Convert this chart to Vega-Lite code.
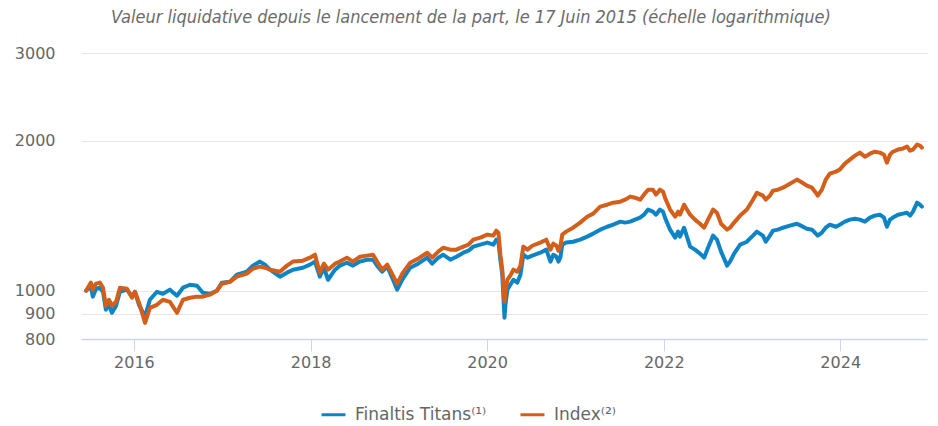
{
  "$schema": "https://vega.github.io/schema/vega-lite/v6.json",
  "autosize": {"type": "none"},
  "width": 846,
  "height": 286,
  "padding": {"left": 81, "top": 53, "right": 11, "bottom": 87},
  "background": "white",
  "title": {
    "text": "Valeur liquidative depuis le lancement de la part, le 17 Juin 2015 (échelle logarithmique)",
    "anchor": "middle",
    "dx": -33,
    "offset": 18,
    "font": "DejaVu Sans Condensed",
    "fontStyle": "italic",
    "fontWeight": "normal",
    "fontSize": 18,
    "color": "#6b6b6b"
  },
  "config": {
    "view": {"stroke": null},
    "axis": {"labelFont": "DejaVu Sans", "labelColor": "#666666", "labelFontSize": 16, "title": null},
    "legend": {"labelFont": "DejaVu Sans", "labelColor": "#666666", "labelFontSize": 17}
  },
  "data": {
    "values": [
      {"d": "2015-06-17", "F": 1000, "I": 1000},
      {"d": "2015-07-07", "F": 1019, "I": 1038},
      {"d": "2015-07-15", "F": 973, "I": 1005},
      {"d": "2015-07-28", "F": 1009, "I": 1033},
      {"d": "2015-08-13", "F": 1014, "I": 1038},
      {"d": "2015-08-26", "F": 995, "I": 1014},
      {"d": "2015-09-07", "F": 916, "I": 933},
      {"d": "2015-09-20", "F": 937, "I": 959},
      {"d": "2015-10-02", "F": 903, "I": 933},
      {"d": "2015-10-19", "F": 933, "I": 950},
      {"d": "2015-11-04", "F": 995, "I": 1014},
      {"d": "2015-12-03", "F": 1005, "I": 1009},
      {"d": "2015-12-24", "F": 973, "I": 968},
      {"d": "2016-01-05", "F": 995, "I": 995},
      {"d": "2016-01-22", "F": 937, "I": 946},
      {"d": "2016-02-16", "F": 887, "I": 862},
      {"d": "2016-03-07", "F": 959, "I": 924},
      {"d": "2016-04-05", "F": 995, "I": 937},
      {"d": "2016-04-30", "F": 986, "I": 959},
      {"d": "2016-05-29", "F": 1005, "I": 950},
      {"d": "2016-06-27", "F": 977, "I": 903},
      {"d": "2016-07-22", "F": 1014, "I": 959},
      {"d": "2016-08-20", "F": 1028, "I": 968},
      {"d": "2016-09-18", "F": 1023, "I": 973},
      {"d": "2016-10-12", "F": 991, "I": 973},
      {"d": "2016-11-10", "F": 986, "I": 982},
      {"d": "2016-12-09", "F": 1000, "I": 1000},
      {"d": "2016-12-30", "F": 1038, "I": 1033},
      {"d": "2017-02-01", "F": 1042, "I": 1042},
      {"d": "2017-03-02", "F": 1077, "I": 1067},
      {"d": "2017-04-12", "F": 1092, "I": 1082},
      {"d": "2017-05-07", "F": 1123, "I": 1107},
      {"d": "2017-06-05", "F": 1144, "I": 1118},
      {"d": "2017-06-26", "F": 1128, "I": 1112},
      {"d": "2017-07-17", "F": 1102, "I": 1102},
      {"d": "2017-08-27", "F": 1067, "I": 1092},
      {"d": "2017-09-25", "F": 1087, "I": 1123},
      {"d": "2017-10-20", "F": 1102, "I": 1144},
      {"d": "2017-11-30", "F": 1112, "I": 1149},
      {"d": "2017-12-29", "F": 1128, "I": 1165},
      {"d": "2018-01-19", "F": 1144, "I": 1181},
      {"d": "2018-02-08", "F": 1067, "I": 1087},
      {"d": "2018-02-25", "F": 1112, "I": 1133},
      {"d": "2018-03-14", "F": 1052, "I": 1102},
      {"d": "2018-04-12", "F": 1102, "I": 1133},
      {"d": "2018-05-02", "F": 1123, "I": 1144},
      {"d": "2018-05-31", "F": 1138, "I": 1165},
      {"d": "2018-06-25", "F": 1123, "I": 1144},
      {"d": "2018-07-24", "F": 1144, "I": 1170},
      {"d": "2018-08-22", "F": 1154, "I": 1176},
      {"d": "2018-09-16", "F": 1154, "I": 1181},
      {"d": "2018-10-03", "F": 1123, "I": 1144},
      {"d": "2018-10-24", "F": 1092, "I": 1102},
      {"d": "2018-11-14", "F": 1118, "I": 1128},
      {"d": "2018-12-08", "F": 1052, "I": 1072},
      {"d": "2018-12-25", "F": 1005, "I": 1033},
      {"d": "2019-01-15", "F": 1052, "I": 1082},
      {"d": "2019-02-17", "F": 1112, "I": 1138},
      {"d": "2019-03-22", "F": 1133, "I": 1160},
      {"d": "2019-04-28", "F": 1165, "I": 1192},
      {"d": "2019-05-19", "F": 1133, "I": 1165},
      {"d": "2019-06-13", "F": 1165, "I": 1198},
      {"d": "2019-07-03", "F": 1181, "I": 1220},
      {"d": "2019-08-02", "F": 1154, "I": 1209},
      {"d": "2019-08-27", "F": 1170, "I": 1209},
      {"d": "2019-09-25", "F": 1192, "I": 1226},
      {"d": "2019-10-16", "F": 1203, "I": 1237},
      {"d": "2019-11-05", "F": 1226, "I": 1266},
      {"d": "2019-12-04", "F": 1237, "I": 1278},
      {"d": "2020-01-02", "F": 1249, "I": 1296},
      {"d": "2020-01-27", "F": 1237, "I": 1290},
      {"d": "2020-02-08", "F": 1266, "I": 1320},
      {"d": "2020-02-17", "F": 1254, "I": 1308},
      {"d": "2020-02-25", "F": 1154, "I": 1181},
      {"d": "2020-03-04", "F": 1077, "I": 1102},
      {"d": "2020-03-08", "F": 982, "I": 1028},
      {"d": "2020-03-13", "F": 883, "I": 950},
      {"d": "2020-03-17", "F": 937, "I": 995},
      {"d": "2020-03-25", "F": 1005, "I": 1052},
      {"d": "2020-04-06", "F": 1028, "I": 1072},
      {"d": "2020-04-19", "F": 1052, "I": 1102},
      {"d": "2020-05-05", "F": 1038, "I": 1092},
      {"d": "2020-05-18", "F": 1077, "I": 1123},
      {"d": "2020-05-30", "F": 1181, "I": 1226},
      {"d": "2020-06-16", "F": 1165, "I": 1209},
      {"d": "2020-07-06", "F": 1176, "I": 1231},
      {"d": "2020-08-08", "F": 1192, "I": 1249},
      {"d": "2020-09-02", "F": 1209, "I": 1266},
      {"d": "2020-09-19", "F": 1144, "I": 1209},
      {"d": "2020-10-01", "F": 1181, "I": 1243},
      {"d": "2020-10-14", "F": 1170, "I": 1231},
      {"d": "2020-10-22", "F": 1144, "I": 1203},
      {"d": "2020-10-30", "F": 1165, "I": 1226},
      {"d": "2020-11-07", "F": 1237, "I": 1296},
      {"d": "2020-11-23", "F": 1249, "I": 1314},
      {"d": "2020-12-22", "F": 1254, "I": 1338},
      {"d": "2021-01-20", "F": 1266, "I": 1370},
      {"d": "2021-02-18", "F": 1284, "I": 1408},
      {"d": "2021-03-15", "F": 1302, "I": 1428},
      {"d": "2021-04-13", "F": 1326, "I": 1475},
      {"d": "2021-05-12", "F": 1344, "I": 1488},
      {"d": "2021-06-06", "F": 1357, "I": 1502},
      {"d": "2021-07-05", "F": 1376, "I": 1509},
      {"d": "2021-07-25", "F": 1370, "I": 1523},
      {"d": "2021-08-15", "F": 1376, "I": 1545},
      {"d": "2021-09-04", "F": 1389, "I": 1537},
      {"d": "2021-09-25", "F": 1402, "I": 1523},
      {"d": "2021-10-11", "F": 1421, "I": 1559},
      {"d": "2021-10-28", "F": 1455, "I": 1595},
      {"d": "2021-11-17", "F": 1441, "I": 1595},
      {"d": "2021-11-30", "F": 1421, "I": 1559},
      {"d": "2021-12-16", "F": 1455, "I": 1595},
      {"d": "2021-12-29", "F": 1441, "I": 1581},
      {"d": "2022-01-06", "F": 1402, "I": 1537},
      {"d": "2022-01-27", "F": 1326, "I": 1455},
      {"d": "2022-02-17", "F": 1278, "I": 1408},
      {"d": "2022-03-01", "F": 1314, "I": 1441},
      {"d": "2022-03-09", "F": 1284, "I": 1421},
      {"d": "2022-03-26", "F": 1338, "I": 1488},
      {"d": "2022-04-20", "F": 1226, "I": 1421},
      {"d": "2022-05-10", "F": 1209, "I": 1389},
      {"d": "2022-05-31", "F": 1187, "I": 1363},
      {"d": "2022-06-17", "F": 1165, "I": 1338},
      {"d": "2022-07-03", "F": 1220, "I": 1389},
      {"d": "2022-07-24", "F": 1290, "I": 1455},
      {"d": "2022-08-09", "F": 1266, "I": 1434},
      {"d": "2022-08-26", "F": 1198, "I": 1363},
      {"d": "2022-09-20", "F": 1123, "I": 1326},
      {"d": "2022-10-02", "F": 1144, "I": 1338},
      {"d": "2022-10-19", "F": 1187, "I": 1370},
      {"d": "2022-11-13", "F": 1237, "I": 1415},
      {"d": "2022-12-11", "F": 1254, "I": 1455},
      {"d": "2022-12-23", "F": 1272, "I": 1488},
      {"d": "2023-01-05", "F": 1290, "I": 1523},
      {"d": "2023-01-21", "F": 1314, "I": 1573},
      {"d": "2023-02-15", "F": 1290, "I": 1552},
      {"d": "2023-02-27", "F": 1254, "I": 1523},
      {"d": "2023-03-16", "F": 1290, "I": 1552},
      {"d": "2023-03-29", "F": 1320, "I": 1588},
      {"d": "2023-04-18", "F": 1326, "I": 1595},
      {"d": "2023-05-09", "F": 1338, "I": 1610},
      {"d": "2023-06-07", "F": 1351, "I": 1640},
      {"d": "2023-07-06", "F": 1363, "I": 1671},
      {"d": "2023-07-22", "F": 1351, "I": 1655},
      {"d": "2023-08-16", "F": 1332, "I": 1625},
      {"d": "2023-09-06", "F": 1326, "I": 1610},
      {"d": "2023-09-22", "F": 1302, "I": 1573},
      {"d": "2023-09-30", "F": 1290, "I": 1552},
      {"d": "2023-10-17", "F": 1308, "I": 1595},
      {"d": "2023-11-02", "F": 1338, "I": 1671},
      {"d": "2023-11-19", "F": 1357, "I": 1718},
      {"d": "2023-12-14", "F": 1344, "I": 1734},
      {"d": "2023-12-30", "F": 1357, "I": 1750},
      {"d": "2024-01-20", "F": 1376, "I": 1799},
      {"d": "2024-02-10", "F": 1389, "I": 1833},
      {"d": "2024-03-02", "F": 1395, "I": 1867},
      {"d": "2024-03-22", "F": 1389, "I": 1893},
      {"d": "2024-04-12", "F": 1376, "I": 1858},
      {"d": "2024-05-03", "F": 1402, "I": 1884},
      {"d": "2024-05-23", "F": 1415, "I": 1901},
      {"d": "2024-06-13", "F": 1421, "I": 1893},
      {"d": "2024-06-30", "F": 1402, "I": 1875},
      {"d": "2024-07-12", "F": 1344, "I": 1807},
      {"d": "2024-07-25", "F": 1389, "I": 1875},
      {"d": "2024-08-06", "F": 1402, "I": 1901},
      {"d": "2024-08-27", "F": 1421, "I": 1920},
      {"d": "2024-09-17", "F": 1428, "I": 1929},
      {"d": "2024-10-03", "F": 1434, "I": 1947},
      {"d": "2024-10-16", "F": 1415, "I": 1910},
      {"d": "2024-10-28", "F": 1441, "I": 1920},
      {"d": "2024-11-14", "F": 1502, "I": 1965},
      {"d": "2024-11-26", "F": 1488, "I": 1956},
      {"d": "2024-12-04", "F": 1475, "I": 1938}
    ]
  },
  "transform": [{"fold": ["F", "I"], "as": ["s", "v"]}],
  "mark": {"type": "line", "strokeWidth": 4, "strokeJoin": "round", "strokeCap": "round", "clip": true},
  "encoding": {
    "x": {
      "field": "d",
      "type": "temporal",
      "scale": {"domain": [{"year": 2015, "month": 5, "date": 27}, {"year": 2024, "month": 12, "date": 25}], "nice": false},
      "axis": {
        "values": [{"year": 2016, "month": 1, "date": 1}, {"year": 2018, "month": 1, "date": 1}, {"year": 2020, "month": 1, "date": 1}, {"year": 2022, "month": 1, "date": 1}, {"year": 2024, "month": 1, "date": 1}],
        "format": "%Y",
        "grid": false,
        "domainColor": "#ccd6eb",
        "domainWidth": 1.5,
        "tickColor": "#ccd6eb",
        "tickSize": 12,
        "tickWidth": 1,
        "labelPadding": 3,
        "labelFlush": false
      }
    },
    "y": {
      "field": "v",
      "type": "quantitative",
      "scale": {"type": "log", "domain": [800, 3000], "nice": false, "zero": false},
      "axis": {
        "values": [800, 900, 1000, 2000, 3000],
        "format": "d",
        "domain": false,
        "ticks": false,
        "tickSize": 0,
        "labelPadding": 26,
        "gridColor": "#e6e6e6",
        "gridWidth": 1
      }
    },
    "color": {
      "field": "s",
      "type": "nominal",
      "scale": {"domain": ["F", "I"], "range": ["#0d84c6", "#d45f1b"]},
      "legend": {
        "title": null,
        "orient": "none",
        "direction": "horizontal",
        "legendX": 239,
        "legendY": 348,
        "padding": 0,
        "symbolType": "stroke",
        "symbolSize": 576,
        "symbolStrokeWidth": 3,
        "labelOffset": 8,
        "columnPadding": 27,
        "labelExpr": "datum.label == 'F' ? 'Finaltis Titans⁽¹⁾' : 'Index⁽²⁾'"
      }
    }
  }
}
